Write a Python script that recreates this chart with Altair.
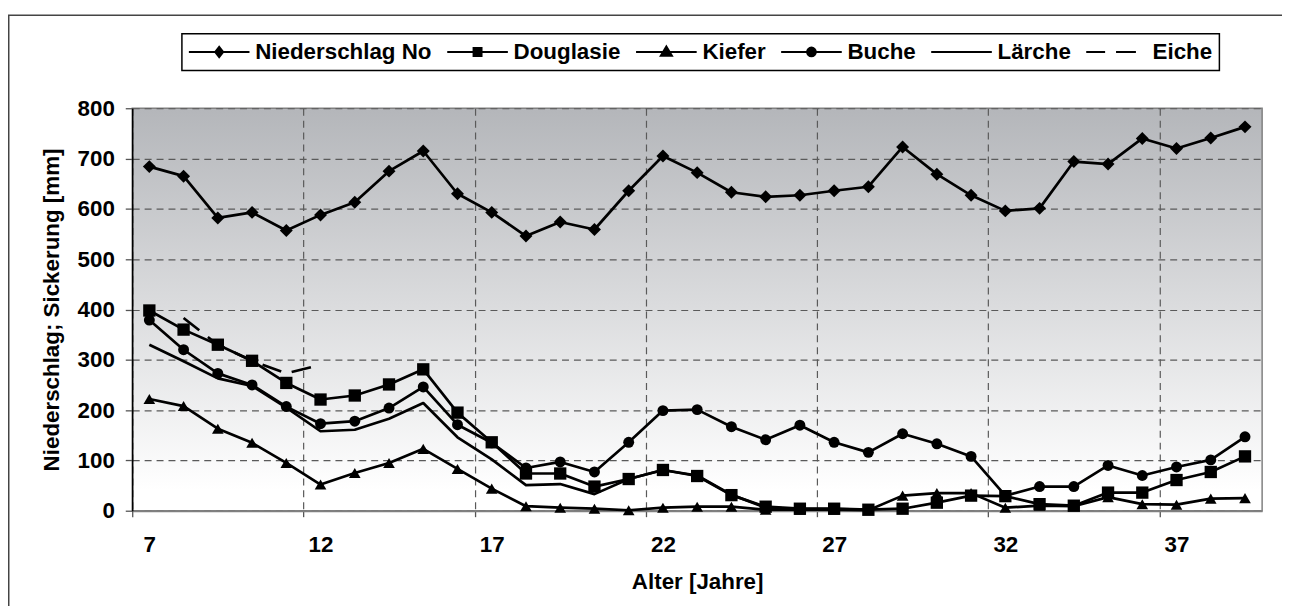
import altair as alt
import pandas as pd

ages = list(range(7, 40))
niederschlag = [684, 665, 582, 593, 557, 588, 613, 675, 715, 630, 593, 546, 574, 559, 636, 705, 672,
                633, 624, 627, 636, 644, 723, 669, 627, 596, 601, 694, 689, 740, 720, 741, 763]
douglasie = [398, 360, 330, 298, 254, 221, 229, 251, 281, 195, 136, 74, 74, 48, 63, 81, 69,
             31, 8, 4, 4, 2, 4, 16, 30, 29, 13, 10, 36, 36, 61, 77, 108]
kiefer = [222, 208, 163, 135, 95, 52, 75, 95, 123, 83, 44, 9, 6, 4, 1, 6, 8,
          8, 2, 2, 2, 1, 30, 35, 35, 6, 10, 9, 27, 13, 12, 24, 25]
buche = [379, 320, 273, 250, 207, 173, 178, 204, 246, 171, 135, 85, 97, 77, 136, 199, 201,
         167, 141, 170, 136, 116, 153, 133, 108, 30, 48, 48, 90, 70, 87, 101, 147]
laerche_ages = list(range(7, 29))
laerche = [330, 297, 263, 248, 205, 158, 161, 183, 214, 146, 102, 51, 53, 33, 63, 81, 70,
           32, 6, 3, 3, 2]
eiche_ages = [8, 9, 10, 11, 12]
eiche = [383, 330, 298, 273, 290]

series_names = ["Niederschlag No", "Douglasie", "Kiefer", "Buche", "Lärche", "Eiche"]
x_label_values = [7, 12, 17, 22, 27, 32, 37]
x_grid_values = [6.5, 11.5, 16.5, 21.5, 26.5, 31.5, 36.5]
y_tick_values = [0, 100, 200, 300, 400, 500, 600, 700, 800]

rows = []
for name, xs, ys in [
    ("Niederschlag No", ages, niederschlag),
    ("Douglasie", ages, douglasie),
    ("Kiefer", ages, kiefer),
    ("Buche", ages, buche),
    ("Lärche", laerche_ages, laerche),
    ("Eiche", eiche_ages, eiche),
]:
    for a, v in zip(xs, ys):
        rows.append({"age": a, "value": v, "series": name})
df = pd.DataFrame(rows)

FONT = "Liberation Sans"

x_enc = alt.X(
    "age:Q",
    scale=alt.Scale(domain=[6.5, 39.5], nice=False, zero=False),
    axis=alt.Axis(
        values=sorted(x_grid_values + x_label_values),
        labelExpr="datum.value % 1 == 0 ? datum.label : ''",
        gridOpacity={"condition": {"test": "datum.value % 1 == 0", "value": 0}, "value": 1},
        tickOpacity={"condition": {"test": "datum.value % 1 == 0", "value": 0}, "value": 1},
        title="Alter [Jahre]",
        labelFlush=False,
        labelOverlap=False,
        tickSize=6,
        labelPadding=17,
        titlePadding=15,
        domainColor="#808080",
        domainWidth=2,
    ),
)
y_enc = alt.Y(
    "value:Q",
    scale=alt.Scale(domain=[0, 800], nice=False),
    axis=alt.Axis(
        values=y_tick_values,
        title="Niederschlag; Sickerung [mm]",
        tickSize=7,
        labelPadding=11,
        titlePadding=14,
        domainColor="black",
        domainWidth=1.5,
    ),
)

marker_series = ["Niederschlag No", "Douglasie", "Kiefer", "Buche"]

lines_solid = alt.Chart(df).transform_filter(
    "datum.series != 'Eiche'"
).mark_line(color="black", strokeWidth=2.7, strokeJoin="round").encode(
    x=x_enc, y=y_enc, detail="series:N"
)
lines_dash = alt.Chart(df).transform_filter(
    "datum.series == 'Eiche'"
).mark_line(color="black", strokeWidth=2.7, strokeDash=[20, 11]).encode(
    x=x_enc, y=y_enc
)
points = alt.Chart(df).transform_filter(
    alt.FieldOneOfPredicate(field="series", oneOf=marker_series)
).mark_point(filled=True, color="black", opacity=1).encode(
    x=x_enc,
    y=y_enc,
    shape=alt.Shape("series:N", scale=alt.Scale(domain=marker_series,
                    range=["diamond", "square", "triangle-up", "circle"]), legend=None),
    size=alt.Size("series:N", scale=alt.Scale(domain=marker_series,
                  range=[170, 121, 170, 130]), legend=None),
)

# legend symbols: line sample + marker in one custom path; Eiche as two dashes
L = "M-3.05,0L3.05,0"
legend_paths = [
    L + "M0,-0.52L0.4,0L0,0.52L-0.4,0Z",
    L + "M-0.4,-0.4L0.4,-0.4L0.4,0.4L-0.4,0.4Z",
    L + "M0,-0.56L0.56,0.38L-0.56,0.38Z",
    L + "M0.44,0A0.44,0.44,0,1,1,-0.44,0A0.44,0.44,0,1,1,0.44,0Z",
    L,
    "M-3.05,0L-1.15,0M-0.05,0L1.95,0",
]

legend_layer = alt.Chart(df).transform_filter("false").mark_point(
    filled=False, fill="black", stroke="black", strokeWidth=2, opacity=1
).encode(
    x=x_enc,
    y=y_enc,
    shape=alt.Shape(
        "series:N",
        scale=alt.Scale(domain=series_names, range=legend_paths),
        legend=alt.Legend(
            title=None,
            orient="none",
            legendX=50,
            legendY=-75,
            direction="horizontal",
            symbolSize=400,
            symbolStrokeWidth=2,
            symbolOpacity=1,
            symbolOffset=19.25,
            labelOffset=25,
            columnPadding=11,
            padding=7,
            strokeColor="black",
            fillColor="white",
            labelFont=FONT,
            labelFontSize=22.5,
            labelFontWeight="bold",
            labelColor="black",
            labelLimit=400,
        ),
    ),
)

border = alt.Chart(pd.DataFrame({"k": [0]})).mark_rect(
    fill=None, stroke="#444", strokeWidth=1.5
).encode(
    x=alt.value(-124.25), x2=alt.value(1200),
    y=alt.value(-93.5), y2=alt.value(540),
)

gradient_expr = ("{gradient: 'linear', x1: 0, y1: 0, x2: 0, y2: 1, stops: ["
                 "{offset: 0, color: '#b4b6ba'}, {offset: 0.95, color: '#ffffff'},"
                 "{offset: 1, color: '#ffffff'}]}")

chart = alt.layer(
    lines_solid, lines_dash, points, legend_layer, border
).resolve_scale(
    shape="independent", size="independent"
).properties(
    width=1137,
    height=405,
    autosize=alt.AutoSizeParams(type="none"),
    padding={"left": 125, "top": 99, "right": 20, "bottom": 94},
    view=alt.ViewBackground(fill={"expr": gradient_expr}, stroke="#808080", strokeWidth=1.5),
).configure_axis(
    labelFont=FONT,
    titleFont=FONT,
    labelFontSize=22.5,
    titleFontSize=22.5,
    labelFontWeight="bold",
    titleFontWeight="bold",
    labelColor="black",
    titleColor="black",
    gridColor="#5a5a5a",
    gridDash=[7, 5],
    gridWidth=1.2,
    tickColor="#555555",
    tickWidth=1.3,
).configure_legend(
    strokeWidth=1.5,
)

chart.save("out.html", embed_options={"renderer": "svg", "actions": False})
